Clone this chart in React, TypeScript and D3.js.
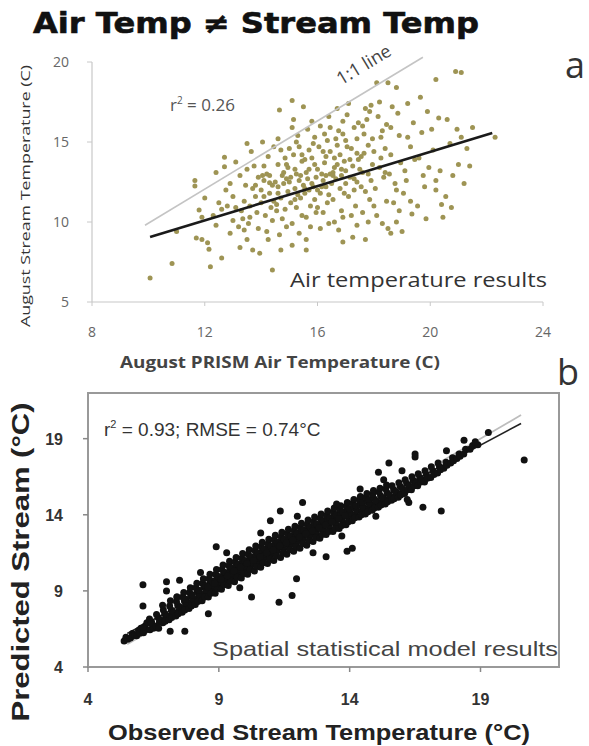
import React from 'react'
import * as d3 from 'd3'

// ---- panel a: air vs stream temperature ----
const AIR_TICKS_X = [8, 12, 16, 20, 24]
const AIR_TICKS_Y = [5, 10, 15, 20]
const AIR_FIT: [number, number][] = [[10.06, 9.06], [22.2, 15.56]]
const AIR_ONE_TO_ONE: [number, number][] = [[9.88, 9.8], [19.74, 20.3]]
const AIR_POINTS: [number, number][] = [
  [10.06, 6.5], [10.84, 7.4], [11.0, 9.4],
  [11.65, 12.6], [11.65, 12.25], [11.8, 10.75], [11.7, 9.0], [11.9, 8.9], [12.1, 8.7], [12.15, 8.3], [12.2, 7.2], [11.9, 10.3], [12.0, 11.5],
  [12.6, 7.75], [12.7, 14.05], [12.7, 13.45], [12.5, 11.2], [12.6, 10.8], [12.9, 12.4], [12.9, 9.3], [13.0, 10.1], [12.4, 9.8], [12.8, 11.0], [12.3, 10.4], [13.0, 11.6], [12.75, 12.0],
  [13.25, 8.4], [13.5, 8.9], [13.1, 13.75], [13.25, 12.9], [13.3, 10.7], [13.4, 11.3], [13.2, 9.7], [13.45, 12.3], [13.35, 10.2], [13.5, 13.3], [13.1, 10.9], [13.4, 9.5],
  [13.7, 12.1], [13.7, 8.25], [13.95, 8.05], [13.6, 11.0], [13.8, 11.6], [13.9, 12.8], [13.6, 10.3], [13.75, 13.5], [13.85, 10.6], [14.0, 12.0], [13.65, 14.4], [13.9, 9.6], [14.0, 11.2], [13.55, 9.9],
  [14.05, 15.0], [14.4, 7.0], [14.1, 12.6], [14.2, 13.0], [14.3, 11.8], [14.15, 10.4], [14.4, 12.3], [14.25, 14.1], [14.35, 10.9], [14.1, 13.5], [14.45, 11.3], [14.2, 9.4], [14.3, 12.9], [14.45, 14.7], [14.1, 11.6], [14.4, 10.1], [14.25, 8.9],
  [14.65, 17.0], [14.7, 8.25], [14.6, 12.2], [14.8, 13.1], [14.7, 11.5], [14.9, 12.7], [14.55, 10.7], [14.85, 14.0], [14.6, 13.6], [14.95, 11.9], [14.75, 10.2], [14.9, 9.7], [14.6, 15.2], [14.8, 12.4], [14.7, 14.5], [14.95, 13.4], [14.55, 11.1], [14.85, 10.8], [14.65, 9.2],
  [15.1, 15.9], [15.1, 17.6], [15.5, 17.2], [15.1, 8.55], [15.0, 12.5], [15.2, 13.3], [15.3, 11.7], [15.15, 14.2], [15.4, 12.9], [15.25, 10.9], [15.45, 13.8], [15.05, 11.2], [15.35, 14.7], [15.2, 12.1], [15.45, 10.4], [15.3, 15.4], [15.1, 9.9], [15.4, 11.5], [15.25, 13.0], [15.5, 12.3], [15.35, 9.3], [15.15, 16.4],
  [15.6, 8.9], [15.6, 8.25], [15.6, 13.1], [15.8, 12.4], [15.7, 14.5], [15.9, 13.6], [15.55, 11.8], [15.75, 11.0], [15.95, 12.8], [15.65, 15.8], [15.85, 14.9], [15.6, 10.3], [15.9, 11.4], [15.7, 12.0], [15.8, 16.3], [15.55, 13.9], [15.95, 10.6], [15.75, 9.7], [15.65, 12.7], [15.9, 15.3],
  [16.4, 9.9], [16.1, 9.6], [16.0, 13.3], [16.2, 12.6], [16.3, 14.1], [16.1, 11.8], [16.45, 13.0], [16.25, 15.5], [16.05, 14.7], [16.35, 11.2], [16.15, 12.2], [16.4, 16.6], [16.2, 10.6], [16.45, 14.4], [16.3, 12.9], [16.0, 10.9], [16.4, 11.7], [16.1, 16.0], [16.25, 13.7], [16.5, 12.4], [16.35, 15.1],
  [16.9, 8.75], [16.6, 13.4], [16.8, 12.1], [16.7, 14.8], [16.95, 13.8], [16.55, 11.4], [16.75, 15.7], [16.85, 10.7], [16.65, 12.7], [16.9, 16.3], [16.6, 10.0], [16.8, 14.2], [16.95, 11.8], [16.7, 17.1], [16.55, 13.1], [16.85, 12.9], [16.75, 9.5], [16.65, 15.2], [16.9, 10.3],
  [17.25, 9.05], [17.0, 13.2], [17.2, 14.6], [17.4, 12.5], [17.1, 11.6], [17.3, 15.9], [17.45, 13.9], [17.05, 16.7], [17.35, 11.0], [17.15, 12.8], [17.4, 14.3], [17.2, 10.4], [17.45, 16.2], [17.0, 15.1], [17.3, 12.0], [17.1, 17.4], [17.4, 9.8], [17.25, 13.5],
  [17.7, 8.9], [17.9, 17.3], [17.7, 17.1], [17.6, 13.1], [17.8, 14.8], [17.55, 12.2], [17.95, 13.6], [17.65, 15.5], [17.85, 11.4], [17.75, 16.4], [17.6, 10.6], [17.9, 12.6], [17.55, 14.1], [17.8, 10.0], [17.95, 15.2], [17.7, 11.9], [17.85, 16.9],
  [18.1, 18.7], [18.5, 18.7], [18.5, 9.6], [18.2, 13.4], [18.4, 14.6], [18.05, 12.1], [18.3, 15.7], [18.45, 11.3], [18.15, 16.6], [18.35, 12.8], [18.1, 10.4], [18.25, 14.0], [18.45, 16.1], [18.0, 11.0], [18.3, 9.9], [18.2, 17.5], [18.4, 13.1],
  [18.6, 9.3], [18.8, 18.4], [18.8, 10.0], [18.6, 14.2], [18.75, 12.4], [18.9, 15.4], [18.55, 13.0], [18.85, 16.8], [18.7, 11.2], [18.95, 13.7], [18.65, 17.2], [18.9, 10.7], [18.6, 15.9], [18.8, 12.0],
  [19.2, 17.4], [19.1, 13.2], [19.3, 14.7], [19.05, 11.8], [19.4, 16.2], [19.15, 12.6], [19.35, 10.5], [19.45, 13.9], [19.2, 15.3], [19.0, 9.4], [19.3, 11.3],
  [19.9, 16.9], [19.6, 14.0], [19.8, 12.2], [19.7, 15.6], [19.95, 13.4], [19.55, 11.0], [19.85, 10.2], [19.65, 17.8], [19.75, 12.9],
  [20.2, 18.9], [20.2, 12.0], [20.2, 12.6], [20.4, 11.1], [20.1, 14.5], [20.35, 13.2], [20.05, 15.8], [20.45, 10.3], [20.3, 16.5],
  [20.6, 16.4], [20.9, 19.4], [20.8, 12.9], [21.0, 13.6], [20.7, 14.9], [20.55, 11.6], [20.95, 15.8], [20.75, 10.9],
  [21.1, 19.35], [21.1, 15.3], [21.3, 14.6], [21.5, 15.9], [21.2, 12.4], [22.3, 15.3], [21.4, 13.5],
  [13.5, 14.9], [12.4, 13.1],
  // denser core of the cloud
  [14.5, 12.5], [14.75, 12.9], [14.9, 13.6], [15.05, 12.8], [15.2, 11.4], [15.35, 12.6], [15.55, 12.1], [15.7, 13.3],
  [15.85, 12.2], [16.0, 12.0], [16.15, 13.0], [16.3, 12.2], [16.55, 12.9], [16.7, 13.6], [16.85, 13.3], [17.0, 12.4],
  [17.15, 13.9], [17.3, 12.7], [17.5, 13.3], [17.65, 14.3], [17.8, 13.0], [14.3, 12.45], [14.6, 11.8], [15.0, 14.6],
  [15.45, 14.2], [15.8, 14.0], [16.2, 14.4], [16.6, 14.0], [17.05, 14.7], [17.4, 15.2], [18.0, 14.4], [13.8, 12.3],
  [14.05, 12.9], [16.45, 15.9], [17.6, 16.0], [15.25, 15.0], [16.9, 15.5], [18.25, 15.3],
]

// ---- panel b: observed vs predicted ----
const MODEL_TICKS = [4, 9, 14, 19]
const MODEL_FIT: [number, number][] = [[5.5, 6.2], [20.55, 20.0]]
const MODEL_ONE_TO_ONE: [number, number][] = [[5.5, 5.5], [20.55, 20.55]]
const MODEL_POINTS: [number, number][] = [
  [5.38, 5.7], [5.45, 5.95], [5.52, 5.82], [5.62, 5.9], [5.7, 6.2], [5.68, 6.02], [5.78, 6.1],
  [5.86, 6.05], [5.93, 6.4], [5.97, 6.22], [6.02, 6.55], [6.12, 6.25], [6.18, 6.7], [6.2, 6.45], [6.25, 6.9], [6.1, 6.6],
  [6.37, 6.45], [6.43, 6.95], [6.48, 6.7], [6.35, 7.15], [6.5, 6.55], [6.42, 6.85],
  [6.6, 6.7], [6.68, 7.25], [6.73, 6.95], [6.62, 7.45], [6.76, 7.1], [6.7, 6.55],
  [6.86, 6.9], [6.93, 7.5], [6.97, 7.2], [6.88, 7.75], [7.02, 7.35], [6.95, 7.0], [6.85, 8.05],
  [7.1, 7.1], [7.18, 7.75], [7.22, 7.45], [7.12, 8.0], [7.26, 7.6], [7.2, 7.25], [7.15, 8.35],
  [7.36, 7.35], [7.43, 8.05], [7.47, 7.7], [7.38, 8.3], [7.52, 7.9], [7.45, 7.5], [7.4, 8.6],
  [7.6, 7.6], [7.68, 8.35], [7.72, 7.95], [7.62, 8.6], [7.77, 8.15], [7.7, 7.75], [7.66, 8.9], [7.74, 8.45],
  [7.86, 7.85], [7.93, 8.65], [7.97, 8.25], [7.88, 8.9], [8.02, 8.45], [7.95, 8.0], [7.91, 9.2], [7.99, 8.75],
  [8.1, 8.1], [8.18, 8.95], [8.22, 8.55], [8.12, 9.2], [8.27, 8.75], [8.2, 8.3], [8.16, 9.5], [8.24, 9.05],
  [8.36, 8.35], [8.43, 9.25], [8.47, 8.85], [8.38, 9.5], [8.52, 9.05], [8.45, 8.6], [8.41, 9.8], [8.49, 9.35],
  [8.6, 8.6], [8.68, 9.55], [8.72, 9.1], [8.62, 9.8], [8.77, 9.35], [8.7, 8.85], [8.66, 10.1], [8.74, 9.65], [8.58, 9.25],
  [8.86, 8.85], [8.93, 9.85], [8.97, 9.4], [8.88, 10.1], [9.02, 9.6], [8.95, 9.15], [8.91, 10.4], [8.99, 9.95], [8.84, 9.5],
  [9.1, 9.1], [9.18, 10.1], [9.22, 9.65], [9.12, 10.4], [9.27, 9.9], [9.2, 9.4], [9.16, 10.7], [9.24, 10.2], [9.08, 9.75],
  [9.36, 9.35], [9.43, 10.35], [9.47, 9.9], [9.38, 10.65], [9.52, 10.15], [9.45, 9.65], [9.41, 10.95], [9.49, 10.5], [9.33, 10.0],
  [9.6, 9.6], [9.68, 10.6], [9.72, 10.15], [9.62, 10.9], [9.77, 10.4], [9.7, 9.9], [9.66, 11.2], [9.74, 10.75], [9.58, 10.3],
  [9.86, 9.85], [9.93, 10.9], [9.97, 10.4], [9.88, 11.15], [10.02, 10.65], [9.95, 10.15], [9.91, 11.45], [9.99, 11.0], [9.83, 10.55],
  [10.1, 10.1], [10.18, 11.1], [10.22, 10.65], [10.12, 11.4], [10.27, 10.9], [10.2, 10.4], [10.16, 11.7], [10.24, 11.25], [10.08, 10.8],
  [10.36, 10.3], [10.43, 11.35], [10.47, 10.9], [10.38, 11.65], [10.52, 11.15], [10.45, 10.6], [10.41, 11.95], [10.49, 11.5], [10.33, 11.0],
  [10.6, 10.55], [10.68, 11.6], [10.72, 11.15], [10.62, 11.9], [10.77, 11.4], [10.7, 10.85], [10.66, 12.2], [10.74, 11.75], [10.58, 11.25],
  [10.86, 10.8], [10.93, 11.85], [10.97, 11.4], [10.88, 12.1], [11.02, 11.6], [10.95, 11.1], [10.91, 12.4], [10.99, 11.95], [10.83, 11.5],
  [11.1, 11.0], [11.18, 12.05], [11.22, 11.6], [11.12, 12.35], [11.27, 11.85], [11.2, 11.3], [11.16, 12.65], [11.24, 12.2], [11.08, 11.7],
  [11.36, 11.2], [11.43, 12.25], [11.47, 11.8], [11.38, 12.55], [11.52, 12.05], [11.45, 11.5], [11.41, 12.85], [11.49, 12.4], [11.33, 11.95],
  [11.6, 11.4], [11.68, 12.45], [11.72, 12.0], [11.62, 12.75], [11.77, 12.25], [11.7, 11.7], [11.66, 13.05], [11.74, 12.6], [11.58, 12.15],
  [11.86, 11.6], [11.93, 12.65], [11.97, 12.2], [11.88, 12.95], [12.02, 12.45], [11.95, 11.9], [11.91, 13.25], [11.99, 12.8], [11.83, 12.35],
  [12.1, 11.8], [12.18, 12.85], [12.22, 12.4], [12.12, 13.15], [12.27, 12.7], [12.2, 12.1], [12.16, 13.45], [12.24, 13.0], [12.08, 12.55],
  [12.36, 12.0], [12.43, 13.05], [12.47, 12.6], [12.38, 13.35], [12.52, 12.9], [12.45, 12.3], [12.41, 13.65], [12.49, 13.2], [12.33, 12.75],
  [12.6, 12.25], [12.68, 13.25], [12.72, 12.8], [12.62, 13.55], [12.77, 13.1], [12.7, 12.5], [12.66, 13.85], [12.74, 13.4], [12.58, 12.95],
  [12.86, 12.45], [12.93, 13.45], [12.97, 13.0], [12.88, 13.75], [13.02, 13.3], [12.95, 12.7], [12.91, 14.05], [12.99, 13.6], [12.83, 13.15],
  [13.1, 12.7], [13.18, 13.65], [13.22, 13.2], [13.12, 13.95], [13.27, 13.5], [13.2, 12.9], [13.16, 14.25], [13.24, 13.8], [13.08, 13.35],
  [13.36, 12.9], [13.43, 13.85], [13.47, 13.4], [13.38, 14.15], [13.52, 13.7], [13.45, 13.1], [13.41, 14.45], [13.49, 14.0], [13.33, 13.55],
  [13.6, 13.1], [13.68, 14.05], [13.72, 13.6], [13.62, 14.35], [13.77, 13.9], [13.7, 13.3], [13.66, 14.6], [13.74, 14.2], [13.58, 13.75],
  [13.86, 13.35], [13.93, 14.25], [13.97, 13.8], [13.88, 14.55], [14.02, 14.1], [13.95, 13.55], [13.91, 14.8], [13.99, 14.4], [13.83, 13.95],
  [14.1, 13.6], [14.18, 14.45], [14.22, 14.0], [14.12, 14.75], [14.27, 14.3], [14.2, 13.8], [14.16, 15.0], [14.24, 14.6],
  [14.36, 13.85], [14.43, 14.65], [14.47, 14.2], [14.38, 14.95], [14.52, 14.5], [14.45, 14.0], [14.41, 15.2], [14.49, 14.8],
  [14.6, 14.05], [14.68, 14.85], [14.72, 14.4], [14.62, 15.15], [14.77, 14.7], [14.7, 14.2], [14.66, 15.4], [14.74, 15.0],
  [14.86, 14.3], [14.93, 15.05], [14.97, 14.6], [14.88, 15.35], [15.02, 14.9], [14.95, 14.45], [14.91, 15.6],
  [15.1, 14.5], [15.18, 15.25], [15.22, 14.8], [15.12, 15.5], [15.27, 15.1], [15.2, 14.65], [15.16, 15.75],
  [15.36, 14.7], [15.43, 15.45], [15.47, 15.0], [15.38, 15.7], [15.52, 15.3], [15.45, 14.85], [15.41, 15.95],
  [15.6, 14.95], [15.68, 15.65], [15.72, 15.2], [15.62, 15.9], [15.77, 15.5], [15.7, 15.05],
  [15.86, 15.15], [15.93, 15.85], [15.97, 15.4], [15.88, 16.1], [16.02, 15.7], [15.95, 15.3],
  [16.1, 15.4], [16.18, 16.05], [16.22, 15.65], [16.12, 16.3], [16.27, 15.9],
  [16.36, 15.65], [16.43, 16.25], [16.47, 15.9], [16.38, 16.5], [16.52, 16.1],
  [16.6, 15.9], [16.68, 16.45], [16.72, 16.15], [16.62, 16.7], [16.77, 16.3],
  [16.86, 16.15], [16.93, 16.65], [16.97, 16.4], [16.88, 16.9],
  [17.1, 16.45], [17.18, 16.9], [17.22, 16.65], [17.12, 17.15],
  [17.36, 16.75], [17.43, 17.15], [17.47, 16.95], [17.38, 17.4],
  [17.6, 17.05], [17.68, 17.45], [17.72, 17.25], [17.86, 17.4], [17.93, 17.75], [17.97, 17.55],
  [18.1, 17.7], [18.18, 18.0], [18.22, 17.85], [18.36, 18.0], [18.43, 18.3], [18.6, 18.3], [18.7, 18.55], [18.9, 18.6],
  // scattered points off the band
  [6.1, 9.4], [6.1, 8.0], [7.0, 9.6], [7.0, 9.0], [7.5, 9.7], [7.4, 8.6], [7.14, 6.35], [7.7, 6.35], [8.6, 7.5],
  [10.25, 8.6], [11.3, 8.25], [11.8, 8.7], [11.97, 9.8], [8.9, 11.9], [10.97, 13.6], [11.35, 14.25], [12.2, 14.8],
  [13.1, 11.25], [13.9, 11.6], [14.1, 11.8], [13.5, 14.7], [14.4, 15.7], [15.1, 16.8], [15.3, 16.3], [16.0, 16.9],
  [16.26, 14.8], [16.8, 14.5], [17.5, 14.25], [15.5, 17.4], [16.5, 18.0], [16.5, 17.8], [17.7, 18.2],
  [18.37, 18.9], [18.8, 18.8], [19.3, 19.4], [20.67, 17.6],
  [9.3, 11.5], [10.6, 12.8], [12.6, 11.5], [9.8, 9.2], [8.3, 10.2], [12.0, 13.9], [13.7, 12.6], [15.0, 13.9], [16.2, 15.0],
]

const W = 589
const H = 746

export default function App() {
  // panel a scales
  const ax = d3.scaleLinear().domain([8, 24]).range([92, 543])
  const ay = d3.scaleLinear().domain([5, 20]).range([302, 62])
  // panel b scales
  const bx = d3.scaleLinear().domain([4, 22]).range([88, 559])
  const by = d3.scaleLinear().domain([4, 22]).range([667, 393])

  const aLine = d3.line<[number, number]>().x(d => ax(d[0])).y(d => ay(d[1]))
  const bLine = d3.line<[number, number]>().x(d => bx(d[0])).y(d => by(d[1]))

  const oneAngle = (Math.atan2(
    ay(AIR_ONE_TO_ONE[1][1]) - ay(AIR_ONE_TO_ONE[0][1]),
    ax(AIR_ONE_TO_ONE[1][0]) - ax(AIR_ONE_TO_ONE[0][0])
  ) * 180) / Math.PI

  const sansA = '"Open Sans", "Liberation Sans", sans-serif'
  const sansB = '"Liberation Sans", Arial, sans-serif'

  return (
    <svg width={W} height={H} style={{ position: 'absolute', left: 0, top: 0, background: '#fff' }}>
      <rect width={W} height={H} fill="#fff" />

      {/* title */}
      <text x={256} y={33} textAnchor="middle" fontFamily='"DejaVu Sans", sans-serif' fontWeight="bold"
        fontSize={28} fill="#111" stroke="#111" strokeWidth={0.6} textLength={446} lengthAdjust="spacingAndGlyphs">
        Air Temp ≠ Stream Temp
      </text>

      {/* ---- panel a ---- */}
      <line x1={ax(8)} x2={ax(24)} y1={ay(5)} y2={ay(5)} stroke="#c8c8c8" strokeWidth={1.2} />
      <line x1={ax(8)} x2={ax(8)} y1={ay(5)} y2={ay(20)} stroke="#c8c8c8" strokeWidth={1.2} />
      {AIR_TICKS_Y.map(t => (
        <g key={`ay${t}`}>
          <line x1={ax(8) - 5} x2={ax(8)} y1={ay(t)} y2={ay(t)} stroke="#c8c8c8" />
          <text x={69} y={ay(t) + 5} textAnchor="end" fontFamily={sansA} fontSize={14} fill="#666">{t}</text>
        </g>
      ))}
      {AIR_TICKS_X.map(t => (
        <g key={`ax${t}`}>
          <line x1={ax(t)} x2={ax(t)} y1={ay(5)} y2={ay(5) + 4} stroke="#c8c8c8" />
          <text x={ax(t)} y={337} textAnchor="middle" fontFamily={sansA} fontSize={14} fill="#666">{t}</text>
        </g>
      ))}
      <g fill="#9e9454">
        {AIR_POINTS.map((d, i) => (
          <circle key={i} cx={ax(d[0])} cy={ay(d[1])} r={2.5} />
        ))}
      </g>
      <path d={aLine(AIR_ONE_TO_ONE) || ''} stroke="#c4c4c4" strokeWidth={1.6} fill="none" />
      <path d={aLine(AIR_FIT) || ''} stroke="#1a1a1a" strokeWidth={2.6} fill="none" />
      <text transform={`translate(367,70) rotate(${oneAngle})`} textAnchor="middle" fontFamily={sansA}
        fontSize={18} fill="#444">1:1 line</text>
      <text x={170} y={111} fontFamily={sansA} fontSize={17} fill="#555">
        r<tspan fontSize={10} dy={-7}>2</tspan><tspan dy={7}> = 0.26</tspan>
      </text>
      <text x={290} y={287} fontFamily={sansA} fontSize={20} fill="#333" textLength={257}
        lengthAdjust="spacingAndGlyphs">Air temperature results</text>
      <text transform="translate(30,196) rotate(-90)" textAnchor="middle" fontFamily={sansA}
        fontSize={13} fill="#333" textLength={262} lengthAdjust="spacingAndGlyphs">
        August Stream Temperature (C)
      </text>
      <text x={280} y={368} textAnchor="middle" fontFamily={sansA} fontWeight="bold" fontSize={16}
        fill="#444" textLength={320} lengthAdjust="spacingAndGlyphs">
        August PRISM Air Temperature  (C)
      </text>
      <text x={575} y={78} textAnchor="middle" fontFamily={sansA} fontSize={36} fill="#333">a</text>
      <text x={568} y={385} textAnchor="middle" fontFamily={sansA} fontSize={36} fill="#333">b</text>

      {/* ---- panel b ---- */}
      <rect x={bx(4)} y={by(22)} width={bx(22) - bx(4)} height={by(4) - by(22)} fill="none"
        stroke="#999" strokeWidth={2} />
      {MODEL_TICKS.map(t => (
        <g key={`b${t}`}>
          <line x1={bx(t)} x2={bx(t)} y1={by(4)} y2={by(4) + 5} stroke="#888" strokeWidth={1.5} />
          <line x1={bx(4) - 5} x2={bx(4)} y1={by(t)} y2={by(t)} stroke="#888" strokeWidth={1.5} />
          <text x={bx(t)} y={705} textAnchor="middle" fontFamily={sansB} fontWeight="bold" fontSize={16}
            fill="#333">{t}</text>
          <text x={63} y={by(t) + 6} textAnchor="end" fontFamily={sansB} fontWeight="bold" fontSize={16}
            fill="#333">{t}</text>
        </g>
      ))}
      <path d={bLine(MODEL_ONE_TO_ONE) || ''} stroke="#bdbdbd" strokeWidth={1.8} fill="none" />
      <path d={bLine(MODEL_FIT) || ''} stroke="#222" strokeWidth={1.6} fill="none" />
      <g fill="#111">
        {MODEL_POINTS.map((d, i) => (
          <circle key={i} cx={bx(d[0])} cy={by(d[1])} r={3.5} />
        ))}
      </g>
      <text x={104} y={436} fontFamily={sansB} fontSize={19} fill="#333">
        r<tspan fontSize={11} dy={-8}>2</tspan><tspan dy={8}> = 0.93; RMSE = 0.74°C</tspan>
      </text>
      <text x={212} y={656} fontFamily={sansB} fontSize={21} fill="#444" textLength={346}
        lengthAdjust="spacingAndGlyphs">Spatial statistical model results</text>
      <text transform="translate(29,562) rotate(-90)" textAnchor="middle" fontFamily={sansB}
        fontWeight="bold" fontSize={23} fill="#222" textLength={319} lengthAdjust="spacingAndGlyphs">
        Predicted Stream (°C)
      </text>
      <text x={319} y={740} textAnchor="middle" fontFamily={sansB} fontWeight="bold" fontSize={22}
        fill="#222" textLength={422} lengthAdjust="spacingAndGlyphs">
        Observed Stream Temperature (°C)
      </text>
    </svg>
  )
}
